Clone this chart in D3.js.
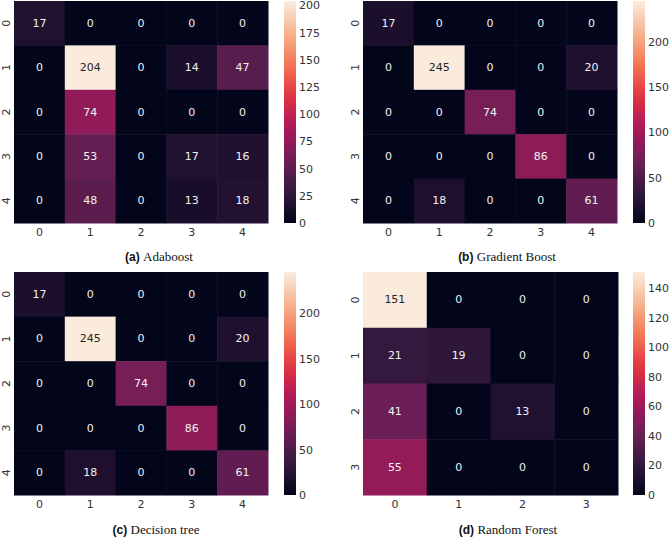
<!DOCTYPE html>
<html><head><meta charset="utf-8">
<script src="https://cdn.jsdelivr.net/npm/d3@7"></script>
<style>body{margin:0;background:#fff}</style>
</head><body>
<svg id="c" width="669" height="537"></svg>
<script>
const classes5 = ["0","1","2","3","4"];
const classes4 = ["0","1","2","3"];
const adaboost = [[17,0,0,0,0],[0,204,0,14,47],[0,74,0,0,0],[0,53,0,17,16],[0,48,0,13,18]];
const gradientBoost = [[17,0,0,0,0],[0,245,0,0,20],[0,0,74,0,0],[0,0,0,86,0],[0,18,0,0,61]];
const decisionTree = [[17,0,0,0,0],[0,245,0,0,20],[0,0,74,0,0],[0,0,0,86,0],[0,18,0,0,61]];
const randomForest = [[151,0,0,0],[21,19,0,0],[41,0,13,0],[55,0,0,0]];
const ticksA = [0,25,50,75,100,125,150,175,200];
const ticksB = [0,50,100,150,200];
const ticksC = [0,50,100,150,200];
const ticksD = [0,20,40,60,80,100,120,140];
const captionsTag = ["(a)","(b)","(c)","(d)"];
const captionsText = ["Adaboost","Gradient Boost","Decision tree","Random Forest"];

const rocketStops = ["#03051a","#35193e","#701f57","#ad1759","#e13342","#f37651","#f6b48f","#faebdd"];
const rocket = d3.scaleLinear().domain(rocketStops.map((d,i)=>i/(rocketStops.length-1))).range(rocketStops).interpolate(d3.interpolateRgb);

const svg = d3.select("#c");
const panels = [
  {m:adaboost, cls:classes5, ticks:ticksA, x0:14, x1:268, y0:1, y1:223, cb:284, capX:159, capY:261},
  {m:gradientBoost, cls:classes5, ticks:ticksB, x0:363, x1:617, y0:1, y1:223, cb:633, capX:507, capY:261},
  {m:decisionTree, cls:classes5, ticks:ticksC, x0:14, x1:268, y0:272, y1:495, cb:284, capX:156, capY:534},
  {m:randomForest, cls:classes4, ticks:ticksD, x0:363, x1:618, y0:272, y1:495, cb:633, capX:508, capY:534}
];

function lum(c){
  const r=d3.rgb(c); const f=v=>{v/=255;return v<=0.03928?v/12.92:Math.pow((v+0.055)/1.055,2.4);};
  return 0.2126*f(r.r)+0.7152*f(r.g)+0.0722*f(r.b);
}
const FS = 11;
panels.forEach((p,pi)=>{
  const g = svg.append("g");
  const vmax = d3.max(p.m.flat());
  const norm = d3.scaleLinear().domain([0,vmax]).range([0,1]);
  const color = v=>rocket(norm(v));
  const x = d3.scaleBand().domain(p.cls).range([p.x0,p.x1]);
  const y = d3.scaleBand().domain(p.cls).range([p.y0,p.y1]);
  const cells = [];
  p.m.forEach((row,i)=>row.forEach((v,j)=>cells.push({r:p.cls[i],c:p.cls[j],v})));
  g.selectAll("rect.cell").data(cells).join("rect").attr("class","cell")
    .attr("x",d=>x(d.c)).attr("y",d=>y(d.r)).attr("width",x.bandwidth()+0.5).attr("height",y.bandwidth()+0.5)
    .attr("fill",d=>color(d.v));
  g.selectAll("text.ann").data(cells).join("text").attr("class","ann")
    .attr("x",d=>x(d.c)+x.bandwidth()/2).attr("y",d=>y(d.r)+y.bandwidth()/2)
    .attr("text-anchor","middle").attr("dominant-baseline","central")
    .attr("font-family","DejaVu Sans").attr("font-size",FS)
    .attr("fill",d=>lum(color(d.v))>0.408?"#262626":"#f2f2f2")
    .text(d=>d.v);
  const xa = g.append("g").attr("transform",`translate(0,${p.y1})`)
    .call(d3.axisBottom(x).tickSize(0).tickPadding(5));
  xa.select(".domain").remove();
  xa.selectAll("text").attr("font-family","DejaVu Sans").attr("font-size",FS).attr("fill","#333");
  const ya = g.append("g").attr("transform",`translate(${p.x0},0)`)
    .call(d3.axisLeft(y).tickSize(0).tickPadding(0));
  ya.select(".domain").remove();
  ya.selectAll("text").attr("font-family","DejaVu Sans").attr("font-size",FS).attr("fill","#333")
    .attr("text-anchor","middle").attr("x",0).attr("dy",0)
    .attr("transform","translate(-8,0) rotate(-90)").attr("dominant-baseline","central");
  const cbW = 12;
  const cy = d3.scaleLinear().domain([0,vmax]).range([p.y1,p.y0]);
  const gid = "grad"+pi;
  const grad = svg.append("defs").append("linearGradient").attr("id",gid)
    .attr("x1",0).attr("y1",1).attr("x2",0).attr("y2",0);
  d3.range(0,1.0001,0.05).forEach(t=>grad.append("stop").attr("offset",t).attr("stop-color",rocket(t)));
  g.append("rect").attr("x",p.cb).attr("y",p.y0).attr("width",cbW).attr("height",p.y1-p.y0).attr("fill",`url(#${gid})`);
  const ca = g.append("g").attr("transform",`translate(${p.cb+cbW},0)`)
    .call(d3.axisRight(cy).tickValues(p.ticks).tickSize(0).tickPadding(3));
  ca.select(".domain").remove();
  ca.selectAll("text").attr("font-family","DejaVu Sans").attr("font-size",FS).attr("fill","#333");
  const cap = g.append("text").attr("x",p.capX).attr("y",p.capY).attr("text-anchor","middle").attr("fill","#111");
  cap.append("tspan").attr("font-family","Liberation Sans").attr("font-weight","bold").attr("font-size",12).text(captionsTag[pi]+" ");
  cap.append("tspan").attr("font-family","Liberation Serif").attr("font-size",13).text(captionsText[pi]);
});
</script>
</body></html>
